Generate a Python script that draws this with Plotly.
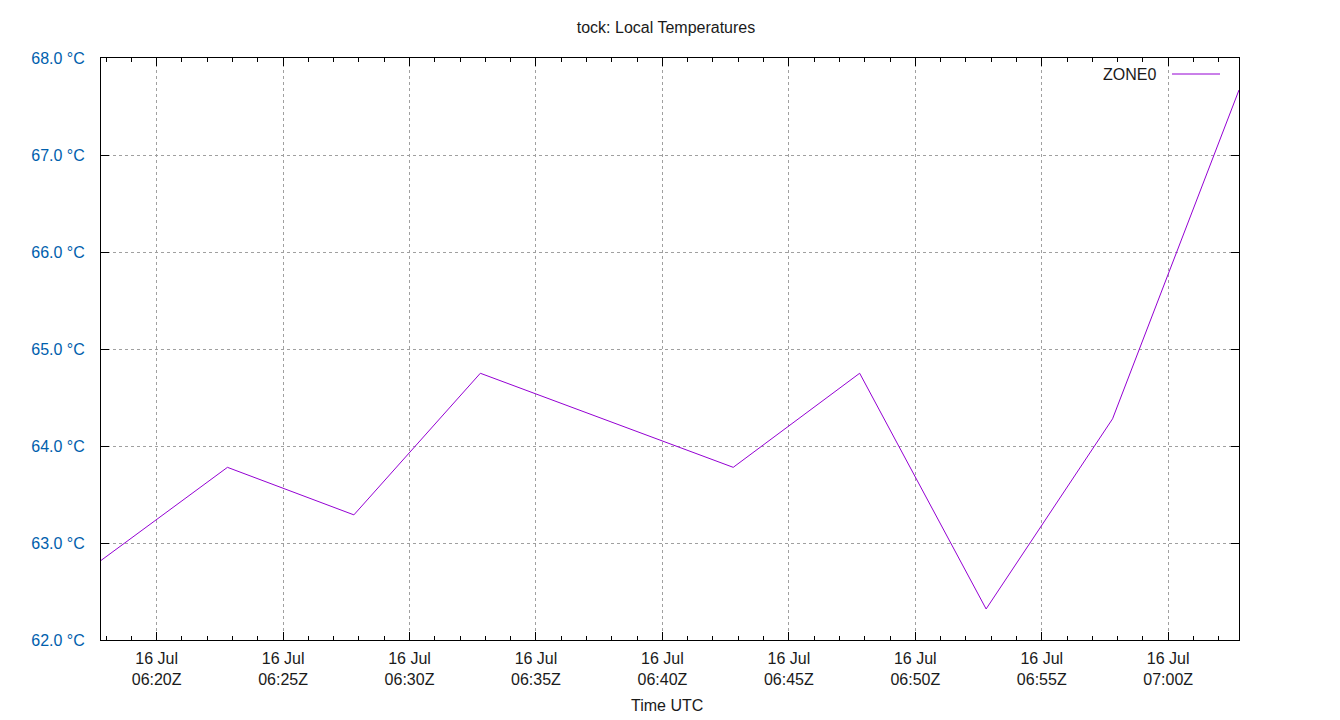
import plotly.graph_objects as go
import pandas as pd

# Data
times = ["2023-07-16 06:17:48", "2023-07-16 06:22:48", "2023-07-16 06:27:48",
         "2023-07-16 06:32:48", "2023-07-16 06:42:48", "2023-07-16 06:47:48",
         "2023-07-16 06:52:48", "2023-07-16 06:57:48", "2023-07-16 07:02:48"]
zone0 = [62.82, 63.78, 63.29, 64.75, 63.78, 64.75, 62.32, 64.28, 67.67]

tick_times = ["2023-07-16 06:20:00", "2023-07-16 06:25:00", "2023-07-16 06:30:00",
              "2023-07-16 06:35:00", "2023-07-16 06:40:00", "2023-07-16 06:45:00",
              "2023-07-16 06:50:00", "2023-07-16 06:55:00", "2023-07-16 07:00:00"]
tick_labels = ["16 Jul<br>06:20Z", "16 Jul<br>06:25Z", "16 Jul<br>06:30Z",
               "16 Jul<br>06:35Z", "16 Jul<br>06:40Z", "16 Jul<br>06:45Z",
               "16 Jul<br>06:50Z", "16 Jul<br>06:55Z", "16 Jul<br>07:00Z"]
y_ticks = [62, 63, 64, 65, 66, 67, 68]
y_labels = ["62.0 °C", "63.0 °C", "64.0 °C", "65.0 °C", "66.0 °C", "67.0 °C", "68.0 °C"]
series_name = "ZONE0"
x_title = "Time UTC"
line_color = "#9400d3"

FONT = "Liberation Sans, Arial, sans-serif"

# page has an 8px body margin; compensate so the plot area sits at 101..1239 x 58..640
W, H = 1332, 712
ML, MR, MT, MB = 93, 101, 50, 80
PW, PH = W - ML - MR, H - MT - MB

fig = go.Figure()
fig.add_trace(go.Scatter(x=pd.to_datetime(times), y=zone0, mode="lines",
                         name=series_name, line=dict(color=line_color, width=1),
                         showlegend=False))

fig.update_layout(
    width=W, height=H,
    margin=dict(l=ML, r=MR, t=MT, b=MB, autoexpand=False),
    paper_bgcolor="white", plot_bgcolor="white",
    font=dict(family=FONT, size=16, color="#1a1a1a"),
    title=dict(text="tock: Local Temperatures", x=(666 - 8) / W, xanchor="center",
               y=1 - 19 / H, yanchor="middle", font=dict(size=16, color="#1a1a1a")),
    showlegend=False,
)

fig.update_xaxes(
    range=[pd.Timestamp(times[0]), pd.Timestamp(times[-1])],
    tickmode="array", tickvals=pd.to_datetime(tick_times), ticktext=tick_labels,
    ticks="inside", ticklen=8, tickwidth=1, tickcolor="black",
    showline=True, linecolor="black", linewidth=1, mirror="allticks",
    showgrid=True, gridcolor="#a0a0a0", gridwidth=1, griddash="3px,3px",
    zeroline=False, automargin=False,
    tickfont=dict(family=FONT, size=16, color="#1a1a1a"),
    ticklabelstandoff=4,
    minor=dict(tick0="2023-07-16 06:20:00", dtick=60000, ticks="inside",
               ticklen=4, tickcolor="black", showgrid=False),
)

fig.update_yaxes(
    range=[62, 68],
    tickmode="array", tickvals=y_ticks, ticktext=y_labels,
    ticks="inside", ticklen=8, tickwidth=1, tickcolor="black",
    showline=True, linecolor="black", linewidth=1, mirror="allticks",
    showgrid=True, gridcolor="#a0a0a0", gridwidth=1, griddash="3px,3px",
    zeroline=False, automargin=False,
    tickfont=dict(family=FONT, size=16, color="#0060ad"),
    ticklabelstandoff=12,
)

# x-axis title
fig.add_annotation(xref="paper", yref="paper", x=(667 - 101) / PW, y=0, yshift=-65,
                   text=x_title, showarrow=False, xanchor="center", yanchor="middle",
                   font=dict(family=FONT, size=16, color="#1a1a1a"))

# gnuplot-style legend: label to the left of the line sample
ly = 1 - (74 - 58) / PH
fig.add_annotation(xref="paper", yref="paper", x=(1158 - 101) / PW, y=ly,
                   text=series_name, showarrow=False, xanchor="right", yanchor="middle",
                   font=dict(family=FONT, size=16, color="#1a1a1a"))
fig.add_shape(type="line", xref="paper", yref="paper",
              x0=(1172 - 101) / PW, x1=(1220 - 101) / PW, y0=ly, y1=ly,
              line=dict(color=line_color, width=1))

fig.write_html("out.html")
